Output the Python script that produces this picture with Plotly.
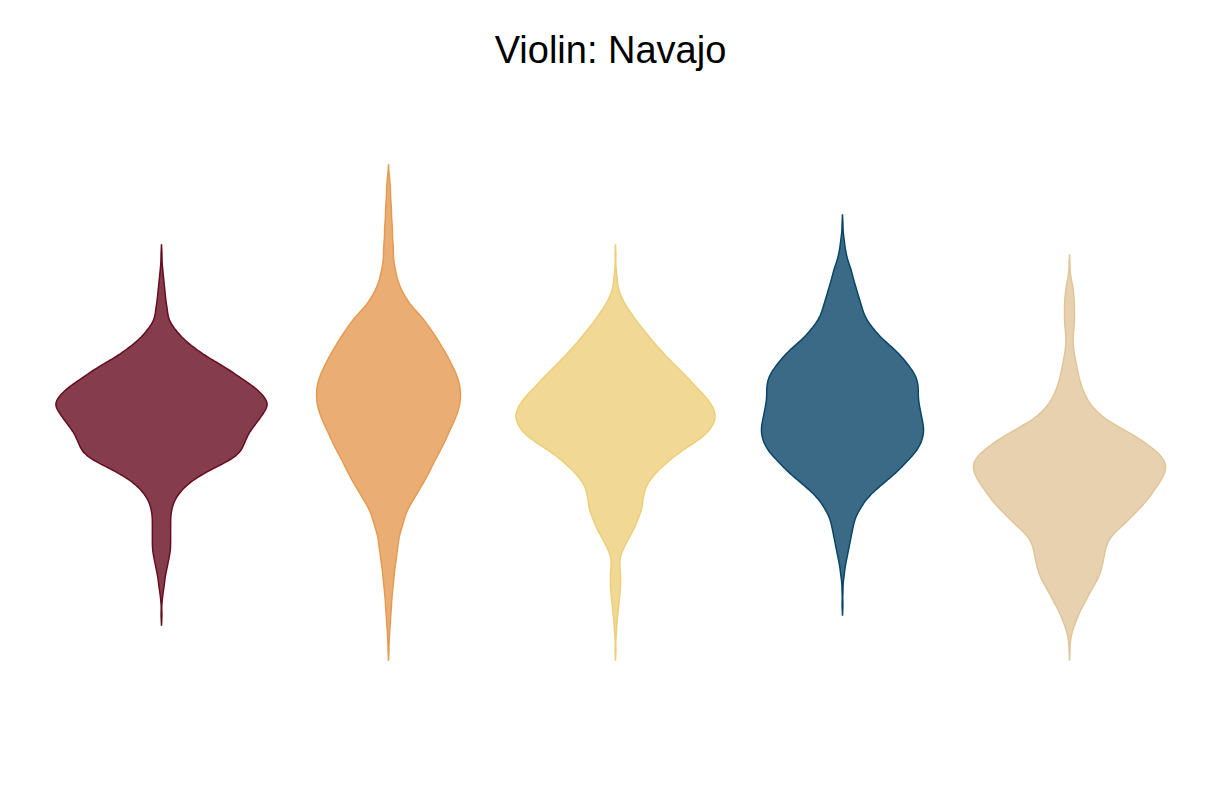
import numpy as np
import plotly.graph_objects as go

# Shared value grid (top to bottom) on which the sample counts are read
levels = [53.0, 52.5, 52.0, 51.5, 51.0, 50.5, 50.0, 49.5, 49.0, 48.5,
          48.0, 47.5, 47.0, 46.5, 46.0, 45.5, 45.0, 44.5, 44.0, 43.5,
          43.0, 42.5, 42.0, 41.5, 41.0, 40.5, 40.0, 39.5, 39.0, 38.5,
          38.0, 37.5, 37.0, 36.5, 36.0, 35.5, 35.0, 34.5, 34.0, 33.5,
          33.0, 32.5, 32.0, 31.5, 31.0, 30.5, 30.0, 29.5, 29.0, 28.5,
          28.0, 27.5, 27.0, 26.5, 26.0, 25.5, 25.0, 24.5, 24.0, 23.5,
          23.0, 22.5, 22.0, 21.5, 21.0, 20.5, 20.0, 19.5, 19.0, 18.5,
          18.0, 17.5, 17.0, 16.5, 16.0, 15.5, 15.0, 14.5, 14.0, 13.5,
          13.0, 12.5, 12.0, 11.5, 11.0, 10.5, 10.0, 9.5, 9.0, 8.5,
          8.0, 7.5, 7.0, 6.5, 6.0, 5.5]

counts_1 = [0, 0, 0, 0, 0, 0, 0, 0, 0, 0,
            0, 0, 0, 0, 0, 0, 1, 0, 1, 1,
            2, 2, 3, 3, 4, 4, 5, 6, 6, 7,
            10, 14, 18, 22, 29, 35, 42, 50, 59, 67,
            74, 81, 89, 95, 100, 104, 106, 103, 99, 96,
            92, 88, 85, 83, 81, 79, 76, 68, 58, 48,
            39, 31, 25, 20, 16, 13, 11, 10, 9, 9,
            9, 9, 9, 9, 9, 9, 8, 7, 6, 5,
            4, 3, 3, 2, 1, 1, 0, 0, 1, 0,
            0, 0, 0, 0, 0, 0]

counts_2 = [1, 1, 2, 2, 2, 2, 3, 3, 3, 3,
            4, 4, 4, 4, 5, 5, 5, 5, 6, 7,
            8, 9, 11, 13, 16, 19, 22, 27, 32, 36,
            40, 43, 47, 50, 53, 56, 59, 62, 64, 67,
            69, 71, 72, 73, 73, 73, 72, 71, 69, 67,
            65, 62, 60, 58, 55, 53, 50, 47, 45, 42,
            40, 37, 34, 31, 28, 25, 22, 19, 17, 16,
            14, 13, 11, 10, 10, 9, 8, 8, 7, 6,
            6, 5, 5, 4, 4, 3, 3, 3, 2, 2,
            2, 1, 1, 1, 0, 1]

counts_3 = [0, 0, 0, 0, 0, 0, 0, 0, 0, 0,
            0, 0, 0, 0, 0, 0, 1, 0, 0, 1,
            1, 2, 2, 3, 5, 7, 10, 13, 17, 20,
            24, 28, 32, 36, 40, 45, 49, 54, 59, 64,
            69, 74, 78, 83, 88, 92, 96, 98, 100, 99,
            97, 94, 89, 83, 75, 67, 60, 54, 48, 43,
            38, 34, 31, 29, 28, 27, 27, 26, 24, 22,
            20, 18, 15, 12, 10, 7, 5, 4, 4, 5,
            5, 5, 5, 5, 4, 4, 3, 3, 2, 2,
            1, 1, 1, 0, 0, 1]

counts_4 = [0, 0, 0, 0, 0, 0, 0, 0, 0, 0,
            1, 0, 1, 2, 2, 3, 4, 5, 7, 9,
            10, 11, 13, 14, 16, 17, 19, 20, 22, 24,
            28, 32, 36, 41, 47, 53, 58, 62, 66, 70,
            73, 75, 76, 76, 76, 76, 77, 78, 79, 80,
            81, 82, 81, 80, 78, 75, 71, 66, 61, 57,
            51, 45, 39, 33, 28, 23, 20, 17, 14, 12,
            11, 10, 9, 8, 7, 6, 5, 4, 3, 2,
            2, 1, 0, 1, 0, 0, 1, 0, 0, 0,
            0, 0, 0, 0, 0, 0]

counts_5 = [0, 0, 0, 0, 0, 0, 0, 0, 0, 0,
            0, 0, 0, 0, 0, 0, 0, 0, 1, 0,
            1, 2, 3, 4, 4, 5, 5, 5, 5, 5,
            5, 4, 4, 3, 4, 4, 5, 6, 7, 8,
            9, 10, 12, 13, 16, 18, 21, 26, 31, 37,
            46, 55, 64, 72, 79, 86, 91, 96, 97, 97,
            95, 92, 89, 85, 82, 78, 74, 69, 64, 59,
            54, 48, 43, 39, 37, 36, 35, 34, 33, 32,
            30, 28, 25, 22, 19, 17, 14, 11, 9, 7,
            5, 3, 2, 1, 0, 1]

groups = ["A", "B", "C", "D", "E"]
all_counts = [counts_1, counts_2, counts_3, counts_4, counts_5]

colors = ["#660d20", "#e59a52", "#edce79", "#094568", "#e1c59a"]
widths = [0.93, 0.634, 0.877, 0.714, 0.846]


def rgba(hex_color, a):
    h = hex_color.lstrip("#")
    r, g, b = int(h[0:2], 16), int(h[2:4], 16), int(h[4:6], 16)
    return f"rgba({r},{g},{b},{a})"


fig = go.Figure()
for name, cnt, col, w in zip(groups, all_counts, colors, widths):
    samples = np.repeat(np.array(levels), np.array(cnt))
    fig.add_trace(go.Violin(
        y=samples,
        name=name,
        scalegroup=name,
        scalemode="width",
        width=w,
        bandwidth=0.5,
        spanmode="soft",
        points=False,
        box_visible=False,
        meanline_visible=False,
        line=dict(color=col, width=1.5),
        fillcolor=rgba(col, 0.8),
        hoverinfo="skip",
        showlegend=False,
    ))

fig.update_layout(
    width=1205,
    height=800,
    violinmode="overlay",
    paper_bgcolor="white",
    plot_bgcolor="white",
    margin=dict(l=40, r=30, t=92, b=103),
    title=dict(
        text="Violin: Navajo",
        x=0.5, xref="container", xanchor="center",
        y=1 - 42 / 800, yref="container", yanchor="middle",
        font=dict(family="Liberation Sans, Arial, sans-serif", size=38, color="black"),
    ),
    xaxis=dict(visible=False, categoryorder="array", categoryarray=groups,
               range=[-0.5, 4.5]),
    yaxis=dict(visible=False, range=[0, 60.5]),
    showlegend=False,
)

fig.write_html("out.html")
